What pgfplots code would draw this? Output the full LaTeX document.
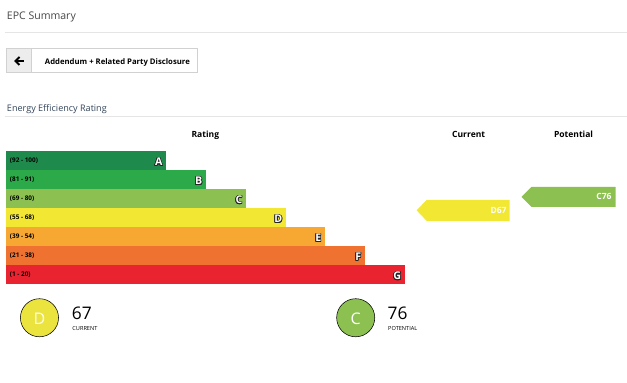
\documentclass[border=0pt]{standalone}
\usepackage{pgfplots}
\pgfplotsset{compat=1.18}
\usepackage{fontspec}
\setmainfont{Open Sans}
\usepackage{contour}
\contourlength{0.5pt}
\definecolor{barA}{RGB}{30,138,76}
\definecolor{barB}{RGB}{44,170,74}
\definecolor{barC}{RGB}{140,193,82}
\definecolor{barD}{RGB}{242,232,52}
\definecolor{barE}{RGB}{246,168,50}
\definecolor{barF}{RGB}{239,114,48}
\definecolor{barG}{RGB}{233,35,47}
\definecolor{circD}{RGB}{236,228,62}
\definecolor{titlegray}{RGB}{70,70,70}
\definecolor{slate}{RGB}{52,70,92}
\definecolor{rulegray}{RGB}{229,229,229}
\newcommand{\fs}[1]{\fontsize{#1}{#1}\selectfont}
\newcommand{\letter}[1]{{\fs{8}\bfseries\color{white}\contour{black!85}{#1}}}
\begin{document}
\begin{tikzpicture}[every node/.style={inner sep=0pt, outer sep=0pt}]
\begin{axis}[
  set layers=standard,
  scale only axis, width=470.25pt, height=287.25pt,
  xmin=0, xmax=627, ymin=0, ymax=383, y dir=reverse,
  hide axis, clip=false
]
% background
\addplot[fill=white, draw=none] coordinates {(0,0) (627,0) (627,383) (0,383)} -- cycle;
% header
\node[anchor=base west, text=titlegray] at (axis cs:7,19.3) {\fs{7.9}EPC Summary};
\addplot[draw=rulegray, line width=0.75pt] coordinates {(5,32.5) (627,32.5)};
% button
\addplot[fill=white, draw=black!18, line width=0.75pt] coordinates {(6.5,48.5) (197.5,48.5) (197.5,72.5) (6.5,72.5)} -- cycle;
\addplot[fill=black!7, draw=black!18, line width=0.75pt] coordinates {(6.5,48.5) (31.5,48.5) (31.5,72.5) (6.5,72.5)} -- cycle;
\addplot[draw=black, line width=1.4pt] coordinates {(16,61) (24.5,61)};
\addplot[draw=black, line width=1.4pt] coordinates {(19.5,57) (15.5,61) (19.5,65)};
\node[anchor=base west] at (axis cs:45,64.3) {\fs{5.8}\bfseries Addendum + Related Party Disclosure};
% section title
\node[anchor=base west, text=slate] at (axis cs:7,111.5) {\fs{6.8}Energy Efficiency Rating};
\addplot[draw=rulegray, line width=0.75pt] coordinates {(5,116.5) (627,116.5)};
% column headers
\node[anchor=base] at (axis cs:205.5,137.5) {\fs{6.4}\bfseries Rating};
\node[anchor=base] at (axis cs:469,137.5) {\fs{6.4}\bfseries Current};
\node[anchor=base] at (axis cs:574,137.5) {\fs{6.4}\bfseries Potential};
% rating bars
\addplot[fill=barA, draw=none] coordinates {(6,151) (166,151) (166,170) (6,170)} -- cycle;
\addplot[fill=barB, draw=none] coordinates {(6,170) (206,170) (206,189) (6,189)} -- cycle;
\addplot[fill=barC, draw=none] coordinates {(6,189) (246,189) (246,208) (6,208)} -- cycle;
\addplot[fill=barD, draw=none] coordinates {(6,208) (286,208) (286,227) (6,227)} -- cycle;
\addplot[fill=barE, draw=none] coordinates {(6,227) (325,227) (325,246) (6,246)} -- cycle;
\addplot[fill=barF, draw=none] coordinates {(6,246) (365,246) (365,265) (6,265)} -- cycle;
\addplot[fill=barG, draw=none] coordinates {(6,265) (405,265) (405,284) (6,284)} -- cycle;
% range labels
\node[anchor=base west] at (axis cs:10,163) {\fs{4.8}\bfseries (92 - 100)};
\node[anchor=base west] at (axis cs:10,182) {\fs{4.8}\bfseries (81 - 91)};
\node[anchor=base west] at (axis cs:10,201) {\fs{4.8}\bfseries (69 - 80)};
\node[anchor=base west] at (axis cs:10,220) {\fs{4.8}\bfseries (55 - 68)};
\node[anchor=base west] at (axis cs:10,239) {\fs{4.8}\bfseries (39 - 54)};
\node[anchor=base west] at (axis cs:10,258) {\fs{4.8}\bfseries (21 - 38)};
\node[anchor=base west] at (axis cs:10,277) {\fs{4.8}\bfseries (1 - 20)};
% band letters
\node[anchor=base east] at (axis cs:162.5,166) {\letter{A}};
\node[anchor=base east] at (axis cs:202.5,185) {\letter{B}};
\node[anchor=base east] at (axis cs:242.5,204) {\letter{C}};
\node[anchor=base east] at (axis cs:282.5,223) {\letter{D}};
\node[anchor=base east] at (axis cs:321.5,242) {\letter{E}};
\node[anchor=base east] at (axis cs:361.5,261) {\letter{F}};
\node[anchor=base east] at (axis cs:401.5,280) {\letter{G}};
% current / potential arrows
\addplot[fill=barD, draw=none] coordinates {(417,210.5) (427,200) (510,200) (510,221) (427,221)} -- cycle;
\node[anchor=base east, text=white] at (axis cs:507,213.5) {\fs{6.4}\bfseries D67};
\addplot[fill=barC, draw=none] coordinates {(522,197) (532,187) (616,187) (616,207) (532,207)} -- cycle;
\node[anchor=base east, text=white] at (axis cs:612,199.5) {\fs{6.4}\bfseries C76};
% summary circles
\addplot[only marks, mark=*, mark size=14.3pt, mark options={fill=circD, draw=none}] coordinates {(39.5,318)};
\addplot[only marks, mark=*, mark size=14.3pt, mark options={fill=barC, draw=none}] coordinates {(356,318)};
\begin{pgfonlayer}{axis foreground}
\node[text=white] at (axis cs:39.5,319) {\fs{12}D};
\node[text=white] at (axis cs:356,319) {\fs{12}C};
\end{pgfonlayer}
\node[anchor=base west] at (axis cs:72,320) {\fs{13}67};
\node[anchor=base west] at (axis cs:72.5,331) {\fs{4.2}CURRENT};
\node[anchor=base west] at (axis cs:388,320) {\fs{13}76};
\node[anchor=base west] at (axis cs:388.5,331) {\fs{4.2}POTENTIAL};
\end{axis}
\end{tikzpicture}
\end{document}
